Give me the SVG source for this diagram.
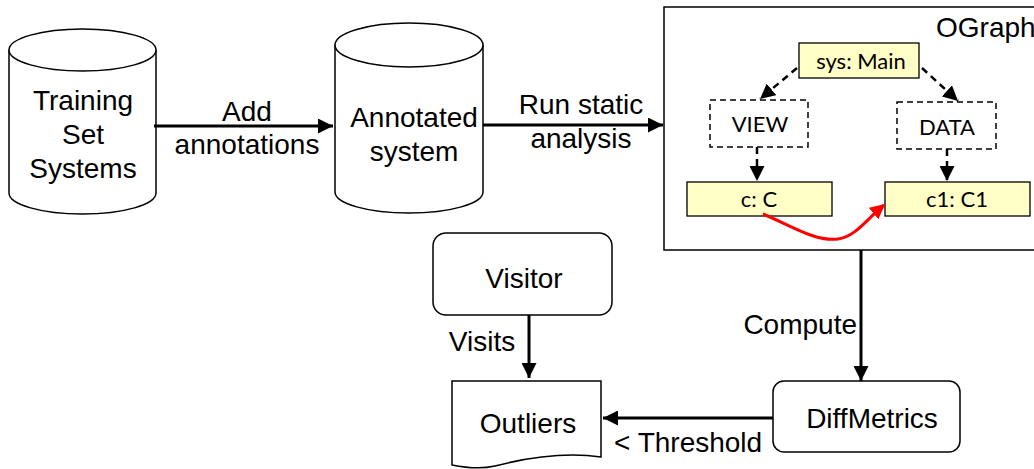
<svg xmlns="http://www.w3.org/2000/svg" width="1034" height="469" viewBox="0 0 1034 469">
<defs>
<style>
.sh{fill:#fff;stroke:#000;stroke-width:1.5}
.big{font-family:"Liberation Sans",Arial,sans-serif;font-size:28px;fill:#000;text-anchor:middle}
.sm{font-family:Lato,"Liberation Sans",sans-serif;font-size:22px;fill:#000;text-anchor:middle}
.obj{fill:#FFFFC6;stroke:#000;stroke-width:1.3}
.dom{fill:#fff;stroke:#000;stroke-width:1.5;stroke-dasharray:6,4}
.conn{stroke:#000;stroke-width:3;fill:none}
.dash{stroke:#000;stroke-width:2.5;fill:none;stroke-dasharray:7,5}
</style>
<marker id="ah" viewBox="0 0 10 10" refX="10" refY="5" markerWidth="5.5" markerHeight="5" markerUnits="strokeWidth" orient="auto"><path d="M0,0 L10,5 L0,10 Z" fill="#000"/></marker>
<marker id="ahd" viewBox="0 0 10 10" refX="10" refY="5" markerWidth="6" markerHeight="6" markerUnits="strokeWidth" orient="auto"><path d="M0,0 L10,5 L0,10 Z" fill="#000"/></marker>
<marker id="ahr" viewBox="0 0 10 10" refX="9" refY="5" markerWidth="5" markerHeight="5" markerUnits="strokeWidth" orient="auto"><path d="M0,0 L10,5 L0,10 Z" fill="#f00"/></marker>
</defs>
<rect width="1034" height="469" fill="#fff"/>

<g id="training">
<path class="sh" d="M9,50 L9,193 A73.5,21 0 0 0 156,193 L156,50"/>
<ellipse class="sh" cx="82.5" cy="50" rx="73.5" ry="21"/>
<text class="big" x="83" y="110">Training</text>
<text class="big" x="83" y="144">Set</text>
<text class="big" x="83" y="178">Systems</text>
</g>

<g id="annotated">
<path class="sh" d="M335,45 L335,192 A74,21 0 0 0 483,192 L483,45"/>
<ellipse class="sh" cx="409" cy="45" rx="74" ry="22"/>
<text class="big" x="414" y="127">Annotated</text>
<text class="big" x="414" y="161">system</text>
</g>

<g id="ograph">
<rect x="664" y="7" width="380" height="243" fill="#fff" stroke="#000" stroke-width="1.5"/>
<text class="big" x="936" y="37" style="text-anchor:start">OGraph</text>
</g>

<g id="sysmain">
<rect class="obj" x="799" y="43" width="120" height="35"/>
<text class="sm" x="861" y="69">sys: Main</text>
</g>
<g id="view">
<rect class="dom" x="710" y="100" width="98" height="47"/>
<text class="sm" x="760" y="132">VIEW</text>
</g>
<g id="data">
<rect class="dom" x="897" y="102" width="99" height="47"/>
<text class="sm" x="947" y="135">DATA</text>
</g>
<g id="cC">
<rect class="obj" x="687" y="182" width="145" height="34"/>
<text class="sm" x="759" y="207">c: C</text>
</g>
<g id="c1C1">
<rect class="obj" x="885" y="182" width="145" height="34"/>
<text class="sm" x="957" y="207">c1: C1</text>
</g>

<g id="visitor">
<rect class="sh" x="433" y="233" width="179" height="82" rx="13"/>
<text class="big" x="524" y="288">Visitor</text>
</g>

<g id="outliers">
<path class="sh" d="M452,381 H601 V457 C565,452 530,457 495,466 C478,470 462,467 452,465 Z"/>
<text class="big" x="528" y="433">Outliers</text>
</g>

<g id="diffmetrics">
<rect class="sh" x="773" y="381" width="187" height="71" rx="11"/>
<text class="big" x="872" y="428">DiffMetrics</text>
</g>

<g id="connectors">
<line class="conn" x1="154" y1="126" x2="333" y2="126" marker-end="url(#ah)"/>
<text class="big" x="247" y="121">Add</text>
<text class="big" x="247" y="154">annotations</text>

<line class="conn" x1="483" y1="125" x2="663" y2="125" marker-end="url(#ah)"/>
<text class="big" x="581" y="114">Run static</text>
<text class="big" x="581" y="148">analysis</text>

<line class="dash" x1="797" y1="68" x2="760" y2="99" marker-end="url(#ahd)"/>
<line class="dash" x1="922" y1="68" x2="958" y2="101" marker-end="url(#ahd)"/>
<line class="dash" x1="757" y1="147" x2="757" y2="181" marker-end="url(#ahd)"/>
<line class="dash" x1="947" y1="149" x2="947" y2="181" marker-end="url(#ahd)"/>
<path d="M763,214 C790,225 815,242 838,239 C855,237 867,219 884,205" fill="none" stroke="#f00" stroke-width="3" marker-end="url(#ahr)"/>

<line class="conn" x1="861" y1="250" x2="861" y2="381" marker-end="url(#ah)"/>
<text class="big" x="857" y="334" style="text-anchor:end">Compute</text>

<line class="conn" x1="529" y1="315" x2="529" y2="378" marker-end="url(#ah)"/>
<text class="big" x="482" y="351">Visits</text>

<line class="conn" x1="773" y1="418" x2="603" y2="418" marker-end="url(#ah)"/>
<text class="big" x="614" y="452" style="text-anchor:start">&lt; Threshold</text>
</g>
</svg>
